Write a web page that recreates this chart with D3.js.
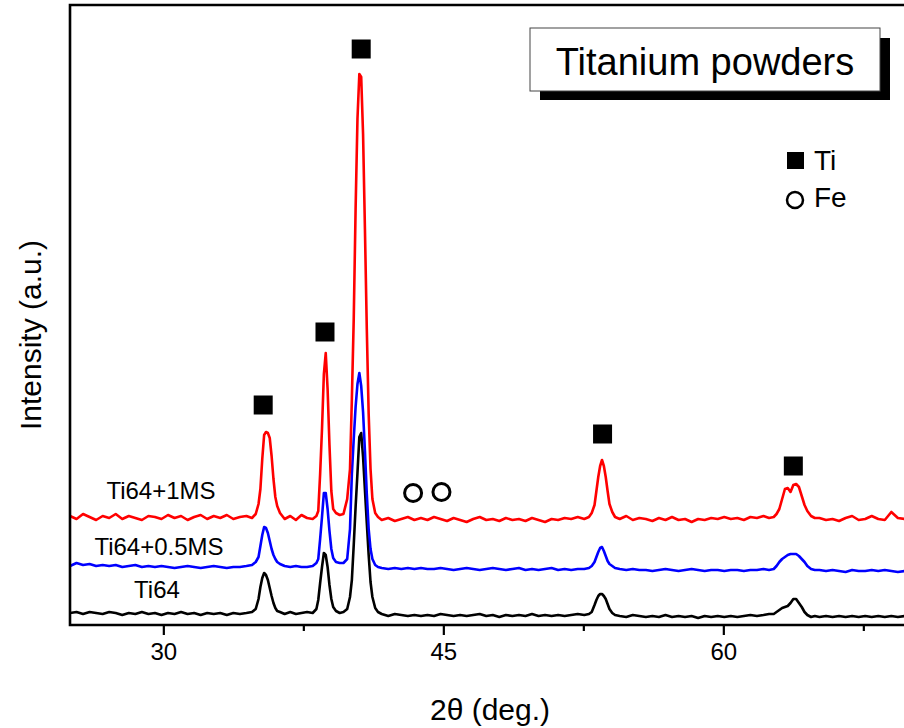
<!DOCTYPE html>
<html>
<head>
<meta charset="utf-8">
<script src="https://cdn.jsdelivr.net/npm/d3@7"></script>
<style>
  html, body { margin: 0; padding: 0; background: #fff; }
  svg { display: block; font-family: Arial, 'Liberation Sans', sans-serif; }
</style>
</head>
<body>
<div class="chart"></div>
<script>
// 2theta grid of the scan (deg)
var twoTheta = [
  25.0, 25.35, 25.7, 26.05, 26.4, 26.75, 27.1, 27.45, 27.8, 28.15, 28.5, 28.85, 29.2, 29.55, 29.9, 30.25, 30.6, 30.95, 31.3, 31.65, 32.0, 32.35, 32.7, 33.05, 33.4, 33.75, 34.1, 34.45, 34.75,
  34.95, 35.1, 35.2, 35.3, 35.4, 35.5, 35.6, 35.7, 35.8, 35.9, 36.0, 36.1, 36.25,
  36.5, 36.8, 37.1, 37.4, 37.7, 38.0, 38.2,
  38.3, 38.4, 38.5, 38.6, 38.7, 38.8, 38.9, 39.0, 39.1, 39.25,
  39.45, 39.65, 39.85,
  40.0, 40.1, 40.2, 40.3, 40.4, 40.5, 40.6, 40.7, 40.8, 40.9, 41.0, 41.1, 41.2, 41.35, 41.5,
  41.7, 42.05, 42.4, 42.75, 43.1, 43.45, 43.8, 44.15, 44.5, 44.85, 45.2, 45.55, 45.9, 46.25, 46.6, 46.95, 47.3, 47.65, 48.0, 48.35, 48.7, 49.05, 49.4, 49.75, 50.1, 50.45, 50.8, 51.15, 51.5, 51.85, 52.2, 52.55,
  52.8, 52.95, 53.1, 53.2, 53.3, 53.4, 53.5, 53.6, 53.7, 53.8, 53.9, 54.05, 54.2,
  54.45, 54.8, 55.15, 55.5, 55.85, 56.2, 56.55, 56.9, 57.25, 57.6, 57.95, 58.3, 58.65, 59.0, 59.35, 59.7, 60.05, 60.4, 60.75, 61.1, 61.45, 61.8, 62.15, 62.45,
  62.7, 62.85, 63.0, 63.15, 63.3, 63.45, 63.6, 63.75, 63.9, 64.05, 64.2, 64.35, 64.5, 64.7, 64.9,
  65.15, 65.5, 65.85, 66.2, 66.55, 66.9, 67.25, 67.6, 67.95, 68.3, 68.65, 69.0, 69.35, 69.7, 70.0
];

// intensities (a.u.), one value per grid point
var ti64 = [
  12, 13, 11, 13, 12, 11, 13, 12, 10, 12, 11, 13, 11, 12, 10, 12, 11, 13, 11, 12, 10, 12, 11, 12, 10, 12, 11, 12, 13,
  16, 26, 38, 47, 52, 50, 45, 37, 29, 22, 17, 14, 13,
  11, 13, 11, 12, 13, 12, 16,
  25, 42, 58, 72, 70, 58, 40, 26, 18, 14,
  12, 13, 16,
  28, 45, 80, 118, 152, 188, 192, 168, 135, 102, 70, 43, 28, 17, 13,
  11, 9, 11, 10, 9, 10, 9, 10, 9, 11, 10, 9, 10, 9, 10, 11, 9, 10, 8, 10, 9, 10, 9, 11, 9, 10, 9, 10, 9, 10, 11, 10,
  11, 13, 20, 25, 29, 31, 31, 29, 26, 21, 16, 12, 10,
  9, 8, 10, 9, 8, 9, 8, 10, 8, 9, 8, 9, 7, 9, 8, 9, 8, 9, 8, 9, 10, 9, 10, 11,
  11, 13, 15, 17, 18, 19, 22, 26, 26, 22, 18, 13, 10, 8, 9,
  8, 9, 8, 9, 8, 9, 8, 9, 8, 9, 8, 9, 8, 9, 8
];
var ti64_05ms = [
  13, 16, 14, 15, 13, 14, 13, 14, 12, 13, 14, 12, 13, 12, 13, 12, 11, 12, 13, 12, 11, 12, 13, 12, 11, 12, 12, 13, 14,
  17, 22, 33, 44, 52, 51, 46, 38, 30, 24, 20, 17, 15,
  13, 12, 13, 12, 12, 13, 16,
  20, 40, 62, 86, 86, 70, 48, 30, 21, 17,
  16, 16, 20,
  50, 105, 140, 172, 195, 206, 193, 167, 128, 85, 50, 30, 20, 14, 12,
  11, 10, 11, 10, 11, 10, 11, 10, 10, 11, 10, 9, 10, 11, 10, 9, 10, 11, 10, 9, 10, 11, 9, 10, 9, 10, 11, 9, 10, 9, 10, 10,
  11, 13, 17, 22, 27, 31, 32, 28, 23, 18, 15, 13, 11,
  10, 9, 10, 9, 9, 8, 9, 10, 9, 8, 9, 10, 9, 8, 9, 9, 8, 9, 9, 8, 9, 9, 10, 9,
  10, 13, 17, 20, 22, 24, 25, 25, 25, 23, 20, 17, 13, 10, 9,
  9, 8, 9, 8, 7, 9, 8, 8, 9, 8, 9, 8, 7, 8, 8
];
var ti64_1ms = [
  13, 10, 15, 12, 9, 13, 11, 15, 10, 13, 11, 9, 13, 12, 10, 14, 11, 13, 9, 12, 14, 10, 13, 11, 14, 10, 12, 13, 11,
  15, 25, 40, 70, 94, 97, 96, 91, 73, 50, 32, 23, 16,
  10, 13, 9, 14, 11, 10, 13,
  18, 55, 100, 155, 176, 140, 84, 38, 20, 16,
  14, 15, 30,
  60, 130, 210, 320, 410, 455, 452, 395, 300, 200, 115, 60, 30, 16, 12,
  9, 11, 8, 10, 12, 9, 11, 9, 12, 10, 8, 11, 9, 7, 10, 12, 9, 10, 8, 11, 9, 10, 8, 11, 9, 7, 10, 9, 11, 10, 12, 10,
  12, 16, 24, 38, 52, 63, 69, 63, 52, 38, 25, 17, 12,
  10, 13, 9, 11, 10, 8, 11, 9, 12, 9, 10, 7, 10, 9, 11, 10, 12, 10, 11, 9, 12, 11, 13, 11,
  12, 15, 20, 30, 40, 41, 37, 44, 45, 42, 33, 24, 18, 13, 11,
  11, 9, 10, 8, 11, 13, 9, 10, 13, 10, 9, 17, 11, 10, 9
];

var seriesNames = ['Ti64', 'Ti64+0.5MS', 'Ti64+1MS'];
var seriesValues = [ti64, ti64_05ms, ti64_1ms];
var seriesOffsets = [0, 46, 96];
var seriesColors = ['#000000', '#0000ff', '#ff0000'];

// phase markers [2theta, intensity]
var tiPeaks = [[35.35, 220], [38.66, 293], [40.6, 576], [53.53, 191], [63.75, 159]];
var fePeaks = [[43.38, 132], [44.9, 133]];

var majorTicks = [30, 45, 60];
var minorTicks = [37.5, 52.5, 67.5];

var width = 904,
  height = 728,
  plotLeft = 70,
  plotRight = 910,
  plotTop = 5,
  plotBottom = 625;

var svg = d3.select('.chart').append('svg')
  .attr('width', width)
  .attr('height', height);

var x = d3.scaleLinear().domain([25, 70]).range([plotLeft, plotRight]);
var y = d3.scaleLinear().domain([0, 620]).range([plotBottom, plotTop]);

svg.append('defs').append('clipPath').attr('id', 'plot')
  .append('rect')
  .attr('x', plotLeft).attr('y', plotTop)
  .attr('width', plotRight - plotLeft).attr('height', plotBottom - plotTop);

// patterns
var line = d3.line()
  .x(function(d) { return x(d[0]); })
  .y(function(d) { return y(d[1]); });

var lines = svg.append('g').attr('clip-path', 'url(#plot)');
seriesValues.forEach(function(vals, i) {
  var pts = twoTheta.map(function(t, j) { return [t, vals[j] + seriesOffsets[i]]; });
  lines.append('path')
    .datum(pts)
    .attr('d', line)
    .attr('fill', 'none')
    .attr('stroke', seriesColors[i])
    .attr('stroke-width', 2.6)
    .attr('stroke-linejoin', 'round');
});

// axes
var xAxis = d3.axisBottom(x).tickValues(majorTicks).tickSize(10).tickPadding(8)
  .tickFormat(d3.format('d'));
var gx = svg.append('g').attr('transform', 'translate(0,' + plotBottom + ')').call(xAxis);
gx.select('.domain').remove();
gx.selectAll('.tick line').attr('stroke', '#000').attr('stroke-width', 2.2);
gx.selectAll('.tick text').attr('font-size', 24).attr('fill', '#000')
  .attr('font-family', "Arial, 'Liberation Sans', sans-serif");

var gm = svg.append('g').attr('transform', 'translate(0,' + plotBottom + ')')
  .call(d3.axisBottom(x).tickValues(minorTicks).tickSize(6).tickFormat(''));
gm.select('.domain').remove();
gm.selectAll('.tick line').attr('stroke', '#000').attr('stroke-width', 2.2);

svg.append('path')
  .attr('d', 'M' + plotRight + ',' + plotTop + 'H' + plotLeft + 'V' + plotBottom + 'H' + plotRight)
  .attr('fill', 'none')
  .attr('stroke', '#000')
  .attr('stroke-width', 2.6);

// axis titles
svg.append('text')
  .attr('x', 490).attr('y', 720)
  .attr('text-anchor', 'middle')
  .attr('font-size', 30)
  .text('2\u03b8 (deg.)');

svg.append('text')
  .attr('transform', 'translate(41,335) rotate(-90)')
  .attr('text-anchor', 'middle')
  .attr('font-size', 30)
  .text('Intensity (a.u.)');

// series labels
var labelPos = [[157, 598], [159, 555], [161, 499]];
seriesNames.forEach(function(n, i) {
  svg.append('text')
    .attr('x', labelPos[i][0]).attr('y', labelPos[i][1])
    .attr('text-anchor', 'middle')
    .attr('font-size', 24)
    .text(n);
});

// phase markers
var sq = 19;
svg.append('g').selectAll('rect')
  .data(tiPeaks).enter().append('rect')
  .attr('x', function(d) { return x(d[0]) - sq / 2; })
  .attr('y', function(d) { return y(d[1]) - sq / 2; })
  .attr('width', sq).attr('height', sq)
  .attr('fill', '#000');

svg.append('g').selectAll('circle')
  .data(fePeaks).enter().append('circle')
  .attr('cx', function(d) { return x(d[0]); })
  .attr('cy', function(d) { return y(d[1]); })
  .attr('r', 8.5)
  .attr('fill', 'none')
  .attr('stroke', '#000')
  .attr('stroke-width', 3);

// title box with shadow
svg.append('rect').attr('x', 540).attr('y', 38).attr('width', 350).attr('height', 62).attr('fill', '#000');
svg.append('rect').attr('x', 530).attr('y', 28).attr('width', 350).attr('height', 63)
  .attr('fill', '#fff').attr('stroke', '#444').attr('stroke-width', 1);
svg.append('text')
  .attr('x', 705).attr('y', 75)
  .attr('text-anchor', 'middle')
  .attr('font-size', 38)
  .text('Titanium powders');

// legend
svg.append('rect').attr('x', 787).attr('y', 152).attr('width', 17).attr('height', 17).attr('fill', '#000');
svg.append('text').attr('x', 814).attr('y', 170).attr('font-size', 28).text('Ti');
svg.append('circle').attr('cx', 795).attr('cy', 200).attr('r', 8)
  .attr('fill', 'none').attr('stroke', '#000').attr('stroke-width', 2.5);
svg.append('text').attr('x', 814).attr('y', 207).attr('font-size', 28).text('Fe');
</script>
</body>
</html>
